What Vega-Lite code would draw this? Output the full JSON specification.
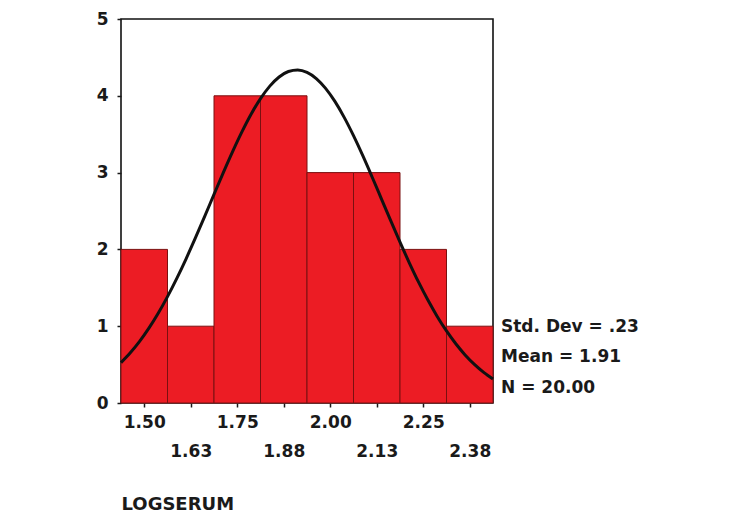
{
  "$schema": "https://vega.github.io/schema/vega-lite/v6.json",
  "width": 372,
  "height": 384,
  "autosize": {"type": "none"},
  "padding": {"left": 121, "top": 19, "right": 250, "bottom": 118},
  "background": "white",
  "config": {
    "view": {"stroke": "#111", "strokeWidth": 1.6},
    "font": "DejaVu Sans",
    "axis": {"grid": false, "labelFont": "DejaVu Sans", "labelFontWeight": "bold", "labelColor": "#1a1a1a", "tickColor": "#1a1a1a", "domainColor": "#1a1a1a", "titleFont": "DejaVu Sans", "titleFontWeight": "bold", "titleColor": "#1a1a1a"}
  },
  "datasets": {
    "bins": [
      {"bin_start": 1.4375, "bin_end": 1.5625, "count": 2},
      {"bin_start": 1.5625, "bin_end": 1.6875, "count": 1},
      {"bin_start": 1.6875, "bin_end": 1.8125, "count": 4},
      {"bin_start": 1.8125, "bin_end": 1.9375, "count": 4},
      {"bin_start": 1.9375, "bin_end": 2.0625, "count": 3},
      {"bin_start": 2.0625, "bin_end": 2.1875, "count": 3},
      {"bin_start": 2.1875, "bin_end": 2.3125, "count": 2},
      {"bin_start": 2.3125, "bin_end": 2.4375, "count": 1}
    ],
    "curve": [
      {"x": 1.4375, "y": 0.526}, {"x": 1.4625, "y": 0.654}, {"x": 1.4875, "y": 0.802},
      {"x": 1.5125, "y": 0.974}, {"x": 1.5375, "y": 1.168}, {"x": 1.5625, "y": 1.385},
      {"x": 1.5875, "y": 1.623}, {"x": 1.6125, "y": 1.878}, {"x": 1.6375, "y": 2.149},
      {"x": 1.6625, "y": 2.430}, {"x": 1.6875, "y": 2.716}, {"x": 1.7125, "y": 2.999},
      {"x": 1.7375, "y": 3.273}, {"x": 1.7625, "y": 3.530}, {"x": 1.7875, "y": 3.763},
      {"x": 1.8125, "y": 3.963}, {"x": 1.8375, "y": 4.126}, {"x": 1.8625, "y": 4.245},
      {"x": 1.8875, "y": 4.316}, {"x": 1.9125, "y": 4.336}, {"x": 1.9375, "y": 4.305},
      {"x": 1.9625, "y": 4.225}, {"x": 1.9875, "y": 4.097}, {"x": 2.0125, "y": 3.927},
      {"x": 2.0375, "y": 3.719}, {"x": 2.0625, "y": 3.481}, {"x": 2.0875, "y": 3.220},
      {"x": 2.1125, "y": 2.943}, {"x": 2.1375, "y": 2.659}, {"x": 2.1625, "y": 2.374},
      {"x": 2.1875, "y": 2.094}, {"x": 2.2125, "y": 1.826}, {"x": 2.2375, "y": 1.573},
      {"x": 2.2625, "y": 1.340}, {"x": 2.2875, "y": 1.127}, {"x": 2.3125, "y": 0.938},
      {"x": 2.3375, "y": 0.771}, {"x": 2.3625, "y": 0.626}, {"x": 2.3875, "y": 0.503},
      {"x": 2.4125, "y": 0.399}, {"x": 2.4375, "y": 0.313}
    ],
    "stats": [
      {"label": "Std. Dev = .23", "row": 1},
      {"label": "Mean = 1.91", "row": 2},
      {"label": "N = 20.00", "row": 3}
    ]
  },
  "layer": [
    {
      "data": {"name": "bins"},
      "mark": {"type": "rect", "fill": "#ec1c24", "stroke": "#7a1010", "strokeWidth": 1},
      "encoding": {
        "x": {
          "field": "bin_start", "type": "quantitative",
          "scale": {"domain": [1.4375, 2.4375], "nice": false, "zero": false},
          "axis": {
            "values": [1.5, 1.625, 1.75, 1.875, 2.0, 2.125, 2.25, 2.375],
            "format": ".2f",
            "labelExpr": "round(datum.value*8) % 2 == 1 ? ['', datum.label] : datum.label",
            "labelLineHeight": 29,
            "labelFontSize": 17,
            "labelBaseline": "top",
            "labelPadding": 7,
            "tickSize": 4,
            "tickWidth": 1.5,
            "labelFlush": false,
            "labelOverlap": false,
            "domain": false,
            "title": "LOGSERUM",
            "titleFontSize": 18,
            "titleAnchor": "start",
            "titleAlign": "left",
            "titlePadding": 36
          }
        },
        "x2": {"field": "bin_end"},
        "y": {
          "field": "count", "type": "quantitative",
          "scale": {"domain": [0, 5], "nice": false},
          "axis": {
            "values": [0, 1, 2, 3, 4, 5],
            "format": "d",
            "labelFontSize": 17,
            "labelPadding": 9,
            "tickSize": 4,
            "tickWidth": 1.5,
            "domain": false,
            "title": null
          }
        },
        "y2": {"datum": 0}
      }
    },
    {
      "data": {"name": "curve"},
      "mark": {"type": "line", "color": "#111", "strokeWidth": 3, "interpolate": "monotone"},
      "encoding": {
        "x": {"field": "x", "type": "quantitative"},
        "y": {"field": "y", "type": "quantitative"}
      }
    },
    {
      "data": {"name": "stats"},
      "transform": [{"filter": "datum.row == 1"}],
      "mark": {"type": "text", "align": "left", "baseline": "middle", "font": "DejaVu Sans", "fontWeight": "bold", "fontSize": 17, "fill": "#1a1a1a"},
      "encoding": {"text": {"field": "label"}, "x": {"datum": 2.459}, "y": {"datum": 0.99}}
    },
    {
      "data": {"name": "stats"},
      "transform": [{"filter": "datum.row == 2"}],
      "mark": {"type": "text", "align": "left", "baseline": "middle", "font": "DejaVu Sans", "fontWeight": "bold", "fontSize": 17, "fill": "#1a1a1a"},
      "encoding": {"text": {"field": "label"}, "x": {"datum": 2.459}, "y": {"datum": 0.6}}
    },
    {
      "data": {"name": "stats"},
      "transform": [{"filter": "datum.row == 3"}],
      "mark": {"type": "text", "align": "left", "baseline": "middle", "font": "DejaVu Sans", "fontWeight": "bold", "fontSize": 17, "fill": "#1a1a1a"},
      "encoding": {"text": {"field": "label"}, "x": {"datum": 2.459}, "y": {"datum": 0.2}}
    }
  ]
}
